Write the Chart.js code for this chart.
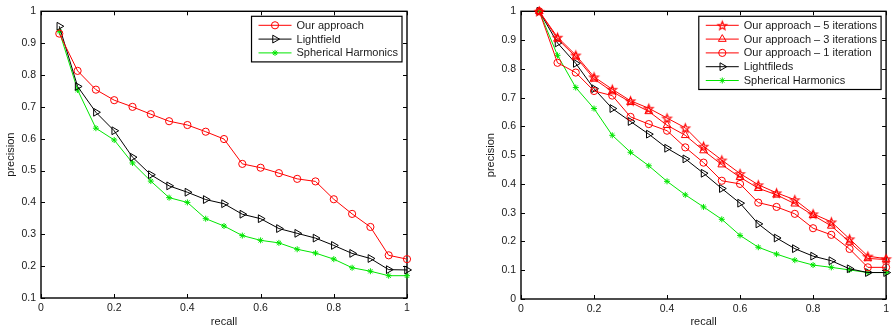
<!DOCTYPE html>
<html>
<head>
<meta charset="utf-8">
<script src="https://cdn.jsdelivr.net/npm/chart.js@4/dist/chart.umd.min.js"></script>
<style>
  body { margin: 0; background: #fff; }
  canvas { position: absolute; top: 0; }
  #left { left: 0; }
  #right { left: 450px; }
</style>
</head>
<body>
<canvas id="left" width="450" height="327"></canvas>
<canvas id="right" width="443" height="327"></canvas>
<script>
// recall levels shared by every curve
const recall = [0.05, 0.10, 0.15, 0.20, 0.25, 0.30, 0.35, 0.40, 0.45, 0.50,
                0.55, 0.60, 0.65, 0.70, 0.75, 0.80, 0.85, 0.90, 0.95, 1.00];

// left plot: precision per method
const leftOurs = [0.930, 0.813, 0.754, 0.721, 0.700, 0.677, 0.655, 0.643, 0.622, 0.599,
                  0.521, 0.509, 0.492, 0.474, 0.466, 0.410, 0.364, 0.323, 0.234, 0.222];
const leftLightfield = [0.953, 0.764, 0.683, 0.625, 0.542, 0.487, 0.452, 0.432, 0.409, 0.396,
                        0.363, 0.349, 0.318, 0.303, 0.288, 0.265, 0.240, 0.224, 0.189, 0.188];
const leftSpherical = [0.937, 0.753, 0.633, 0.596, 0.524, 0.467, 0.415, 0.400, 0.349, 0.326,
                       0.296, 0.281, 0.273, 0.253, 0.241, 0.222, 0.195, 0.184, 0.170, 0.170];

// right plot: iterations comparison
const rightIter5 = [1.000, 0.910, 0.848, 0.772, 0.729, 0.689, 0.663, 0.629, 0.595, 0.531,
                    0.483, 0.436, 0.397, 0.369, 0.345, 0.296, 0.268, 0.209, 0.149, 0.140];
const rightIter3 = [1.000, 0.904, 0.842, 0.765, 0.721, 0.684, 0.652, 0.604, 0.569, 0.516,
                    0.467, 0.423, 0.385, 0.362, 0.331, 0.291, 0.254, 0.198, 0.141, 0.137];
const rightIter1 = [1.000, 0.821, 0.787, 0.723, 0.707, 0.633, 0.608, 0.585, 0.527, 0.474,
                    0.411, 0.400, 0.335, 0.320, 0.296, 0.246, 0.223, 0.174, 0.110, 0.110];
const rightLightfield = [1.000, 0.890, 0.819, 0.731, 0.662, 0.617, 0.573, 0.524, 0.487, 0.437,
                         0.384, 0.333, 0.261, 0.212, 0.175, 0.149, 0.133, 0.105, 0.092, 0.092];
const rightSpherical = [1.000, 0.847, 0.735, 0.662, 0.569, 0.510, 0.463, 0.409, 0.362, 0.320,
                        0.277, 0.221, 0.180, 0.156, 0.135, 0.118, 0.110, 0.101, 0.092, 0.092];

const leftLabels = ["Our approach", "Lightfield", "Spherical Harmonics"];
const rightLabels = ["Our approach \u2013 5 iterations", "Our approach \u2013 3 iterations",
                     "Our approach \u2013 1 iteration", "Lightfileds", "Spherical Harmonics"];

const FONT = "'Liberation Sans', Helvetica, Arial, sans-serif";
const TEXT = "#1a1a1a";
const RED = "#ff0000", GREEN = "#00e600", BLACK = "#000000";

// hollow pentagram marker (Chart.js has no 5-point star)
function pentagram(r, color) {
  const c = document.createElement("canvas");
  const s = Math.ceil(r * 2 + 3);
  c.width = c.height = s;
  const g = c.getContext("2d");
  g.beginPath();
  for (let i = 0; i < 10; i++) {
    const rad = i % 2 ? r * 0.42 : r;
    const a = -Math.PI / 2 + i * Math.PI / 5;
    g.lineTo(s / 2 + rad * Math.cos(a), s / 2 + 0.6 + rad * Math.sin(a));
  }
  g.closePath();
  g.strokeStyle = color;
  g.lineWidth = 1.1;
  g.stroke();
  return c;
}

function series(label, values, color, style, radius, rotation) {
  return {
    label: label,
    data: recall.map((r, i) => ({ x: r, y: values[i] })),
    borderColor: color,
    backgroundColor: color,
    borderWidth: 1,
    pointStyle: style,
    pointRadius: radius,
    pointRotation: rotation || 0,
    pointBorderColor: color,
    pointBackgroundColor: "rgba(0,0,0,0)",
    pointBorderWidth: 1,
    tension: 0,
    clip: false
  };
}

// box with inward tick marks on all four sides
const frame = {
  id: "frame",
  beforeDatasetsDraw(chart) {
    const { ctx, chartArea: a, scales: { x, y } } = chart;
    const len = 4;
    ctx.save();
    ctx.strokeStyle = BLACK;
    ctx.lineWidth = 1;
    ctx.beginPath();
    x.ticks.forEach(t => {
      const px = Math.round(x.getPixelForValue(t.value)) + 0.5;
      ctx.moveTo(px, a.bottom); ctx.lineTo(px, a.bottom - len);
      ctx.moveTo(px, a.top); ctx.lineTo(px, a.top + len);
    });
    y.ticks.forEach(t => {
      const py = Math.round(y.getPixelForValue(t.value)) + 0.5;
      ctx.moveTo(a.left, py); ctx.lineTo(a.left + len, py);
      ctx.moveTo(a.right, py); ctx.lineTo(a.right - len, py);
    });
    ctx.stroke();
    ctx.lineWidth = 1.4;
    ctx.strokeRect(a.left, a.top, a.width, a.height);
    ctx.restore();
  }
};

// legend box in the top-right corner of the plot
const boxLegend = {
  id: "boxLegend",
  afterDraw(chart) {
    const { ctx, chartArea: a } = chart;
    const sets = chart.data.datasets;
    ctx.save();
    ctx.font = "11px " + FONT;
    const textW = Math.max(...sets.map(d => ctx.measureText(d.label).width));
    const rowH = 13.8;
    const w = 7 + 33 + 5 + textW + 4;
    const h = 18 + (sets.length - 1) * rowH;
    const right = a.right - 5, top = a.top + 5;
    const left = right - w;
    ctx.fillStyle = "#fff";
    ctx.fillRect(left, top, w, h);
    ctx.strokeStyle = BLACK;
    ctx.lineWidth = 1.2;
    ctx.strokeRect(left, top, w, h);
    sets.forEach((d, i) => {
      const cy = top + 9 + i * rowH;
      const x1 = left + 7, x2 = x1 + 33;
      ctx.strokeStyle = d.borderColor;
      ctx.lineWidth = 1;
      ctx.beginPath();
      ctx.moveTo(x1, cy); ctx.lineTo(x2, cy);
      ctx.stroke();
      ctx.fillStyle = "rgba(0,0,0,0)";
      Chart.helpers.drawPoint(ctx, {
        pointStyle: d.pointStyle, rotation: d.pointRotation,
        radius: d.pointRadius, borderWidth: 1
      }, (x1 + x2) / 2, cy);
      ctx.fillStyle = TEXT;
      ctx.textBaseline = "middle";
      ctx.fillText(d.label, x2 + 5, cy + 0.5);
    });
    ctx.restore();
  }
};

const tickLabel = v => String(+v.toFixed(1));

function options(yMin, padLeft, padRight, bottomH) {
  return {
    responsive: false,
    animation: false,
    layout: { padding: { top: 10, left: padLeft, right: padRight, bottom: 0 } },
    plugins: { legend: { display: false }, tooltip: { enabled: false } },
    scales: {
      x: {
        type: "linear", min: 0, max: 1,
        grid: { display: false, drawTicks: false, tickLength: 0 },
        border: { display: false },
        ticks: { stepSize: 0.2, padding: 4, color: TEXT, font: { family: FONT, size: 10.5 }, callback: tickLabel, maxRotation: 0 },
        title: { display: true, text: "recall", color: TEXT, font: { family: FONT, size: 11 }, padding: { top: 0, bottom: -2 } },
        afterFit: s => { s.height = bottomH; }
      },
      y: {
        type: "linear", min: yMin, max: 1,
        grid: { display: false, drawTicks: false, tickLength: 0 },
        border: { display: false },
        ticks: { stepSize: 0.1, padding: 5, color: TEXT, font: { family: FONT, size: 10.5 }, callback: tickLabel },
        title: { display: true, text: "precision", color: TEXT, font: { family: FONT, size: 11 }, padding: { top: 4, bottom: 0 } },
        afterFit: s => { s.width = 41; }
      }
    }
  };
}

new Chart(document.getElementById("left"), {
  type: "line",
  data: {
    datasets: [
      series(leftLabels[0], leftOurs, RED, "circle", 3.6),
      series(leftLabels[1], leftLightfield, BLACK, "triangle", 4.5, 90),
      series(leftLabels[2], leftSpherical, GREEN, "star", 3)
    ]
  },
  options: options(0.1, 0, 43, 29),
  plugins: [frame, boxLegend]
});

new Chart(document.getElementById("right"), {
  type: "line",
  data: {
    datasets: [
      series(rightLabels[0], rightIter5, RED, pentagram(4.6, RED), 4.6),
      series(rightLabels[1], rightIter3, RED, "triangle", 4.5),
      series(rightLabels[2], rightIter1, RED, "circle", 3.6),
      series(rightLabels[3], rightLightfield, BLACK, "triangle", 4.5, 90),
      series(rightLabels[4], rightSpherical, GREEN, "star", 3)
    ]
  },
  options: options(0, 30, 5, 28),
  plugins: [frame, boxLegend]
});
</script>
</body>
</html>
